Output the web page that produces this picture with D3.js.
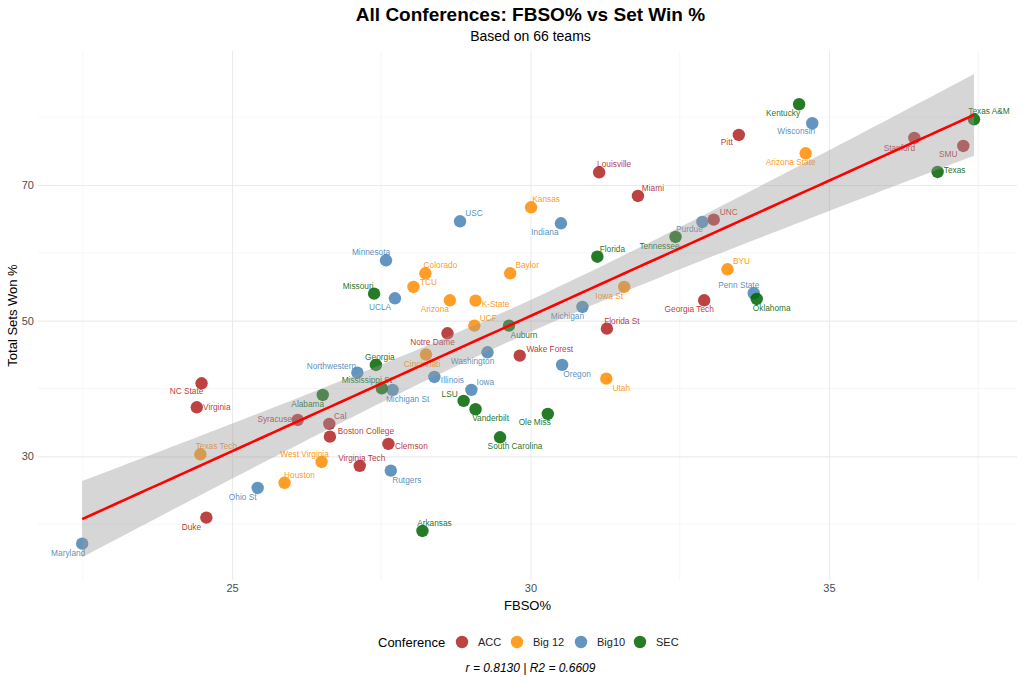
<!DOCTYPE html>
<html>
<head>
<meta charset="utf-8">
<script src="https://cdn.jsdelivr.net/npm/d3@7"></script>
<style>
  body { margin: 0; background: #fff; }
  text { font-family: "Liberation Sans", Arial, sans-serif; }
</style>
</head>
<body>
<div id="chartCtn"></div>
<script>
// --- data ------------------------------------------------------------------
const conferences = [ "ACC", "Big 12", "Big10", "SEC" ];
const confColors = [ "#b22222", "#ff8c00", "#4682b4", "#006400" ];

const teams = [
	"NC State", "Virginia", "Syracuse", "Cal", "Boston College", "Clemson", "Virginia Tech",
	"Duke", "Notre Dame", "Wake Forest", "Louisville", "Miami", "UNC", "Georgia Tech",
	"Florida St", "Pitt", "Stanford", "SMU",
	"Texas Tech", "West Virginia", "Houston", "Kansas", "Colorado", "Baylor", "TCU",
	"Arizona", "K-State", "UCF", "Cincinnati", "Arizona State", "BYU", "Iowa St", "Utah",
	"Northwestern", "Rutgers", "Ohio St", "Maryland", "USC", "Indiana", "Minnesota", "UCLA",
	"Washington", "Illinois", "Michigan St", "Iowa", "Oregon", "Purdue", "Penn State",
	"Michigan", "Wisconsin",
	"Alabama", "Arkansas", "Missouri", "Georgia", "Mississippi St", "Auburn", "LSU",
	"Vanderbilt", "Ole Miss", "South Carolina", "Florida", "Tennessee", "Oklahoma",
	"Kentucky", "Texas", "Texas A&M"
];
const teamConf = [
	"ACC", "ACC", "ACC", "ACC", "ACC", "ACC", "ACC", "ACC", "ACC", "ACC", "ACC", "ACC",
	"ACC", "ACC", "ACC", "ACC", "ACC", "ACC",
	"Big 12", "Big 12", "Big 12", "Big 12", "Big 12", "Big 12", "Big 12", "Big 12",
	"Big 12", "Big 12", "Big 12", "Big 12", "Big 12", "Big 12", "Big 12",
	"Big10", "Big10", "Big10", "Big10", "Big10", "Big10", "Big10", "Big10", "Big10",
	"Big10", "Big10", "Big10", "Big10", "Big10", "Big10", "Big10", "Big10",
	"SEC", "SEC", "SEC", "SEC", "SEC", "SEC", "SEC", "SEC", "SEC", "SEC", "SEC", "SEC",
	"SEC", "SEC", "SEC", "SEC"
];
const fbso = [
	24.49, 24.41, 26.10, 26.63, 26.64, 27.62, 27.14, 24.57, 28.61, 29.82, 31.15, 31.80,
	33.07, 32.91, 31.28, 33.49, 36.43, 37.25,
	24.47, 26.50, 25.88, 30.01, 28.24, 29.66, 28.04, 28.65, 29.08, 29.06, 28.25, 34.61,
	33.30, 31.57, 31.27,
	27.10, 27.66, 25.43, 22.49, 28.82, 30.51, 27.58, 27.73, 29.28, 28.39, 27.69, 29.01,
	30.53, 32.88, 33.74, 30.87, 34.72,
	26.52, 28.19, 27.38, 27.41, 27.51, 29.64, 28.88, 29.08, 30.29, 29.49, 31.12, 32.43,
	33.79, 34.50, 36.82, 37.43
];
const setWin = [
	40.77, 37.23, 35.36, 34.78, 32.90, 31.83, 28.60, 20.97, 48.14, 44.85, 71.87, 68.38,
	64.89, 53.00, 48.82, 77.37, 76.93, 75.75,
	30.30, 29.17, 26.10, 66.71, 56.98, 56.98, 54.97, 53.00, 52.95, 49.27, 45.00, 74.67,
	57.57, 54.97, 41.45,
	42.34, 27.90, 25.34, 17.13, 64.65, 64.35, 58.90, 53.30, 45.34, 41.70, 39.80, 39.80,
	43.48, 64.55, 54.04, 52.02, 79.10,
	39.05, 19.00, 53.98, 43.47, 40.03, 49.27, 38.17, 36.94, 36.25, 32.81, 59.43, 62.34,
	53.20, 81.90, 71.92, 79.68
];

const xTicks = [ 25, 30, 35 ];
const xMinor = [ 22.5, 27.5, 32.5, 37.5 ];
const yTicks = [ 30, 50, 70 ];
const yMinor = [ 20, 40, 60, 80 ];

const rValue = "0.8130";
const r2Value = "0.6609";

// label offsets (px) from the point, like the repelled labels of the original
const labelNudge = {
	"NC State": [ -15, 8 ], "Virginia": [ 20, 0 ], "Syracuse": [ -23, -1 ], "Cal": [ 11, -8 ],
	"Boston College": [ 36, -6 ], "Clemson": [ 23, 2 ], "Virginia Tech": [ 2, -8 ],
	"Duke": [ -15, 9 ], "Notre Dame": [ -15, 9 ], "Wake Forest": [ 30, -7 ],
	"Louisville": [ 15, -8 ], "Miami": [ 15, -8 ], "UNC": [ 15, -8 ], "Georgia Tech": [ -15, 9 ],
	"Florida St": [ 15, -8 ], "Pitt": [ -12, 7 ], "Stanford": [ -15, 10 ], "SMU": [ -15, 8 ],
	"Texas Tech": [ 16, -8 ], "West Virginia": [ -17, -8 ], "Houston": [ 15, -8 ],
	"Kansas": [ 15, -8 ], "Colorado": [ 15, -8 ], "Baylor": [ 17, -8 ], "TCU": [ 15, -5 ],
	"Arizona": [ -15, 9 ], "K-State": [ 20, 3 ], "UCF": [ 14, -8 ], "Cincinnati": [ -4, 9 ],
	"Arizona State": [ -15, 9 ], "BYU": [ 14, -8 ], "Iowa St": [ -15, 9 ], "Utah": [ 15, 9 ],
	"Northwestern": [ -26, -7 ], "Rutgers": [ 16, 9 ], "Ohio St": [ -15, 9 ],
	"Maryland": [ -14, 9 ], "USC": [ 14, -8 ], "Indiana": [ -16, 9 ], "Minnesota": [ -15, -8 ],
	"UCLA": [ -15, 9 ], "Washington": [ -15, 9 ], "Illinois": [ 18, 3 ],
	"Michigan St": [ 15, 9 ], "Iowa": [ 14, -8 ], "Oregon": [ 15, 9 ], "Purdue": [ -13, 7 ],
	"Penn State": [ -15, -8 ], "Michigan": [ -15, 9 ], "Wisconsin": [ -16, 8 ],
	"Alabama": [ -15, 9 ], "Arkansas": [ 12, -8 ], "Missouri": [ -16, -8 ], "Georgia": [ 4, -8 ],
	"Mississippi St": [ -15, -8 ], "Auburn": [ 15, 9 ], "LSU": [ -14, -7 ],
	"Vanderbilt": [ 15, 9 ], "Ole Miss": [ -13, 8 ], "South Carolina": [ 15, 9 ],
	"Florida": [ 15, -8 ], "Tennessee": [ -16, 9 ], "Oklahoma": [ 15, 9 ],
	"Kentucky": [ -16, 9 ], "Texas": [ 17, -2 ], "Texas A&M": [ 15, -8 ]
};

// --- layout ----------------------------------------------------------------
const width = 1024, height = 683;
const margin = { top: 51, right: 7, bottom: 103, left: 38 };
const panelW = width - margin.left - margin.right;
const panelH = height - margin.top - margin.bottom;

const points = teams.map( ( t, i ) => ( { name: t, conf: teamConf[ i ], x: fbso[ i ], y: setWin[ i ] } ) );

// linear fit with 95% confidence band (as geom_smooth(method = "lm"))
const n = points.length;
const xbar = d3.mean( points, d => d.x );
const ybar = d3.mean( points, d => d.y );
const sxx = d3.sum( points, d => ( d.x - xbar ) ** 2 );
const sxy = d3.sum( points, d => ( d.x - xbar ) * ( d.y - ybar ) );
const slope = sxy / sxx;
const intercept = ybar - slope * xbar;
const sse = d3.sum( points, d => ( d.y - intercept - slope * d.x ) ** 2 );
const sigma = Math.sqrt( sse / ( n - 2 ) );
const tCrit = 1.9977; // t(0.975, df = 64)
const xExt = d3.extent( points, d => d.x );
const band = d3.range( 80 ).map( k => {
	const x = xExt[ 0 ] + ( xExt[ 1 ] - xExt[ 0 ] ) * k / 79;
	const fit = intercept + slope * x;
	const se = sigma * Math.sqrt( 1 / n + ( x - xbar ) ** 2 / sxx );
	return { x: x, fit: fit, lo: fit - tCrit * se, hi: fit + tCrit * se };
} );

const xScale = d3.scaleLinear().domain( [ 21.75, 38.15 ] ).range( [ 0, panelW ] );
const yScale = d3.scaleLinear().domain( [ 11.77, 89.75 ] ).range( [ panelH, 0 ] );
const color = d3.scaleOrdinal().domain( conferences ).range( confColors );

const svg = d3.select( "#chartCtn" )
	.append( "svg" )
	.attr( "width", width )
	.attr( "height", height )
	.attr( "viewBox", [ 0, 0, width, height ] );

const g = svg.append( "g" ).attr( "transform", `translate(${ margin.left },${ margin.top })` );

// grid
g.append( "g" ).selectAll( "line.minx" ).data( xMinor ).join( "line" )
	.attr( "x1", d => xScale( d ) ).attr( "x2", d => xScale( d ) )
	.attr( "y1", 0 ).attr( "y2", panelH )
	.attr( "stroke", "#f0f0f0" ).attr( "stroke-width", 0.6 );
g.append( "g" ).selectAll( "line.miny" ).data( yMinor ).join( "line" )
	.attr( "y1", d => yScale( d ) ).attr( "y2", d => yScale( d ) )
	.attr( "x1", 0 ).attr( "x2", panelW )
	.attr( "stroke", "#f0f0f0" ).attr( "stroke-width", 0.6 );

const xAxis = g.append( "g" )
	.attr( "transform", `translate(0,${ panelH })` )
	.call( d3.axisBottom( xScale ).tickValues( xTicks ).tickSize( panelH ).tickPadding( 4 ) );
xAxis.attr( "transform", "translate(0,0)" );
xAxis.select( ".domain" ).remove();
xAxis.selectAll( ".tick line" ).attr( "stroke", "#ebebeb" ).attr( "stroke-width", 1.1 );
xAxis.selectAll( ".tick text" )
	.attr( "fill", "#4d4d4d" ).style( "font-size", "11px" );

const yAxis = g.append( "g" )
	.call( d3.axisLeft( yScale ).tickValues( yTicks ).tickSize( -panelW ).tickPadding( 4 ) );
yAxis.select( ".domain" ).remove();
yAxis.selectAll( ".tick line" ).attr( "stroke", "#ebebeb" ).attr( "stroke-width", 1.1 );
yAxis.selectAll( ".tick text" )
	.attr( "fill", "#4d4d4d" ).style( "font-size", "11px" );

// points and labels
g.append( "g" ).selectAll( "circle" ).data( points ).join( "circle" )
	.attr( "cx", d => xScale( d.x ) )
	.attr( "cy", d => yScale( d.y ) )
	.attr( "r", 6.2 )
	.attr( "fill", d => color( d.conf ) )
	.attr( "fill-opacity", 0.85 );

g.append( "g" ).selectAll( "text" ).data( points ).join( "text" )
	.attr( "x", d => xScale( d.x ) + ( labelNudge[ d.name ] || [ 0, -8 ] )[ 0 ] )
	.attr( "y", d => yScale( d.y ) + ( labelNudge[ d.name ] || [ 0, -8 ] )[ 1 ] )
	.attr( "text-anchor", "middle" )
	.attr( "dominant-baseline", "central" )
	.attr( "fill", d => color( d.conf ) )
	.attr( "fill-opacity", 0.9 )
	.style( "font-size", "8.3px" )
	.text( d => d.name );

// confidence ribbon and fitted line
g.append( "path" ).datum( band )
	.attr( "d", d3.area().x( d => xScale( d.x ) ).y0( d => yScale( d.lo ) ).y1( d => yScale( d.hi ) ) )
	.attr( "fill", "#999999" )
	.attr( "fill-opacity", 0.4 );

g.append( "path" ).datum( band )
	.attr( "d", d3.line().x( d => xScale( d.x ) ).y( d => yScale( d.fit ) ) )
	.attr( "fill", "none" )
	.attr( "stroke", "red" )
	.attr( "stroke-width", 2.6 );

// titles
const cx = margin.left + panelW / 2;
svg.append( "text" )
	.attr( "x", cx + 3 ).attr( "y", 21 )
	.attr( "text-anchor", "middle" )
	.style( "font-size", "19px" ).style( "font-weight", "bold" )
	.text( "All Conferences: FBSO% vs Set Win %" );
svg.append( "text" )
	.attr( "x", cx + 3 ).attr( "y", 41 )
	.attr( "text-anchor", "middle" )
	.style( "font-size", "14px" )
	.text( "Based on 66 teams" );

svg.append( "text" )
	.attr( "x", cx ).attr( "y", 610 )
	.attr( "text-anchor", "middle" )
	.style( "font-size", "13px" )
	.text( "FBSO%" );
svg.append( "text" )
	.attr( "transform", `translate(17,${ margin.top + panelH / 2 }) rotate(-90)` )
	.attr( "text-anchor", "middle" )
	.style( "font-size", "13px" )
	.text( "Total Sets Won %" );

// legend
const legend = svg.append( "g" ).attr( "transform", "translate(378,642)" );
legend.append( "text" )
	.attr( "x", 0 ).attr( "y", 0 )
	.attr( "dominant-baseline", "central" )
	.style( "font-size", "13px" )
	.text( "Conference" );
const legendX = [ 84, 139, 203, 262 ];
const items = legend.selectAll( "g.item" ).data( conferences ).join( "g" )
	.attr( "transform", ( d, i ) => `translate(${ legendX[ i ] },0)` );
items.append( "circle" )
	.attr( "r", 6.2 )
	.attr( "fill", d => color( d ) )
	.attr( "fill-opacity", 0.85 );
items.append( "text" )
	.attr( "x", 16 ).attr( "y", 0 )
	.attr( "dominant-baseline", "central" )
	.attr( "fill", "#222" )
	.style( "font-size", "11px" )
	.text( d => d );

svg.append( "text" )
	.attr( "x", cx + 3 ).attr( "y", 672 )
	.attr( "text-anchor", "middle" )
	.style( "font-size", "12px" ).style( "font-style", "italic" )
	.text( `r = ${ rValue } | R2 = ${ r2Value }` );
</script>
</body>
</html>
